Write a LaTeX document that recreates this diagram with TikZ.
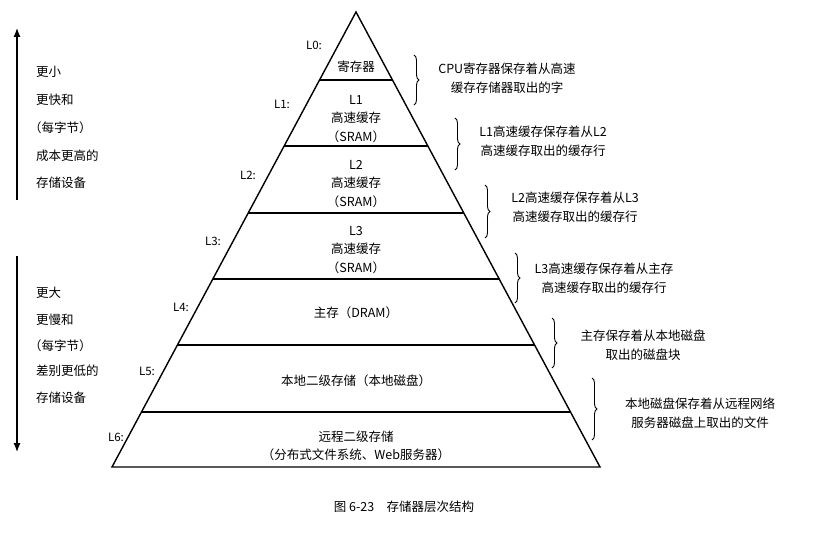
\documentclass[tikz,border=0pt]{standalone}
\usepackage{fontspec}
\setmainfont{Noto Sans CJK SC}
\usetikzlibrary{decorations.pathreplacing,arrows.meta}
\begin{document}
\begin{tikzpicture}[x=1pt,y=-1pt,
  txt/.style={font=\fontsize{12.5}{18.5}\selectfont,align=center,inner sep=1pt},
  side/.style={font=\fontsize{12.5}{15}\selectfont,anchor=west,inner sep=1pt},
  lvl/.style={font=\fontsize{11.5}{13}\selectfont,inner sep=1pt},
  br/.style={decorate,decoration={brace,amplitude=5pt},line width=0.9pt},
  ln/.style={line width=1.4pt}]
\useasboundingbox[fill=white] (0,0) rectangle (823,535);
\coordinate (apex) at (356,12);
\coordinate (bl) at (112,467);
\coordinate (br) at (600,467);
\draw[ln] (apex) -- (bl) -- (br) -- cycle;
\foreach \y in {80,146,213,279,345,412}{
  \draw[ln] ({356-0.536*(\y-12)},\y) -- ({356+0.538*(\y-12)},\y);
}
% level labels
\node[lvl] (l0) at (314,45) {L0:};
\node[lvl] (l1) at (282,104) {L1:};
\node[lvl] (l2) at (248,175) {L2:};
\node[lvl] (l3) at (213,241) {L3:};
\node[lvl] (l4) at (181,307) {L4:};
\node[lvl] (l5) at (147,371) {L5:};
\node[lvl] (l6) at (116,437) {L6:};
% contents
\node[txt] (t0) at (356,67) {寄存器};
\node[txt] (t1) at (356,119) {L1\\高速缓存\\（SRAM）};
\node[txt] (t2) at (356,184) {L2\\高速缓存\\（SRAM）};
\node[txt] (t3) at (356,250) {L3\\高速缓存\\（SRAM）};
\node[txt] (t4) at (356,313) {主存（DRAM）};
\node[txt] (t5) at (356,381) {本地二级存储（本地磁盘）};
\node[txt] (t6) at (356,446) {远程二级存储\\（分布式文件系统、Web服务器）};
% braces
\draw[br] (414,55) -- (414,105);
\node[txt] (d0) at (507,78) {CPU寄存器保存着从高速\\缓存存储器取出的字};
\draw[br] (455,118) -- (455,170);
\node[txt] (d1) at (543,141) {L1高速缓存保存着从L2\\高速缓存取出的缓存行};
\draw[br] (485,185) -- (485,238);
\node[txt] (d2) at (575,207) {L2高速缓存保存着从L3\\高速缓存取出的缓存行};
\draw[br] (515,253) -- (515,303);
\node[txt] (d3) at (604,278) {L3高速缓存保存着从主存\\高速缓存取出的缓存行};
\draw[br] (552,318) -- (552,368);
\node[txt] (d4) at (643,345) {主存保存着从本地磁盘\\取出的磁盘块};
\draw[br] (592,378) -- (592,440);
\node[txt] (d5) at (700,413) {本地磁盘保存着从远程网络\\服务器磁盘上取出的文件};
% left arrows
\coordinate (a1) at (17,200); \coordinate (a2) at (17,28);
\coordinate (b1) at (17,256); \coordinate (b2) at (17,452);
\draw[line width=1.2pt,-{Latex[length=9pt,width=7pt]}] (a1) -- (a2);
\draw[line width=1.2pt,-{Latex[length=9pt,width=7pt]}] (b1) -- (b2);
\node[side] (u1) at (35,72) {更小};
\node[side] (u2) at (35,100) {更快和};
\node[side] (u3) at (28,128) {（每字节）};
\node[side] (u4) at (35,156) {成本更高的};
\node[side] (u5) at (35,183) {存储设备};
\node[side] (w1) at (35,293) {更大};
\node[side] (w2) at (35,320) {更慢和};
\node[side] (w3) at (28,346) {（每字节）};
\node[side] (w4) at (35,371) {差别更低的};
\node[side] (w5) at (35,398) {存储设备};
\node[txt] (cap) at (404,507) {图 6-23\quad 存储器层次结构};
\end{tikzpicture}
\end{document}
